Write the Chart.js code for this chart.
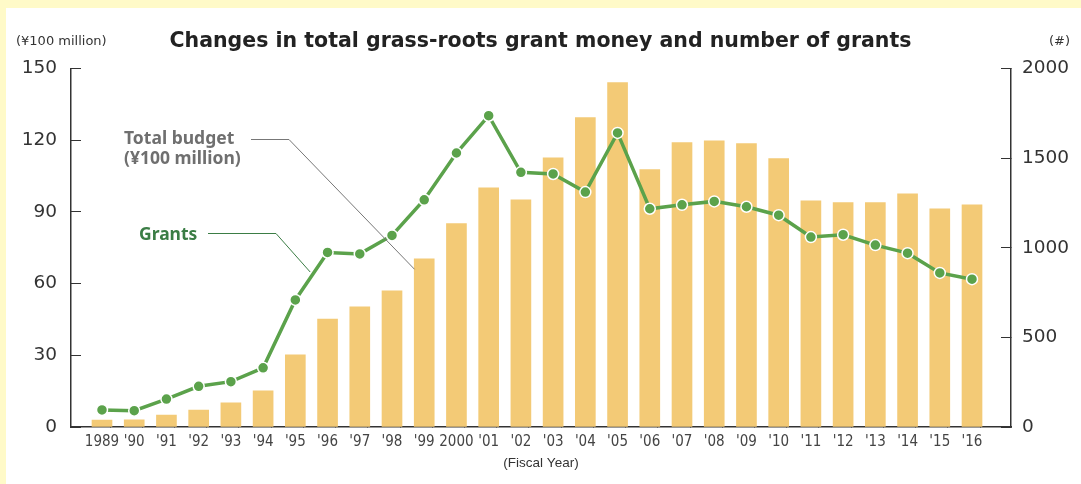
<!DOCTYPE html>
<html>
<head>
<meta charset="utf-8">
<title>Grass-roots grants</title>
<script src="https://cdn.jsdelivr.net/npm/chart.js@4.4.0/dist/chart.umd.min.js"></script>
<style>
    html, body { margin: 0; padding: 0; background: #fffac8; }
    #wrap { position: relative; width: 1081px; height: 484px; }
</style>
</head>
<body>
<div id="wrap"><canvas id="grantChart"></canvas></div>
<script>
// fiscal years on the x axis
const yearLabels = ["1989", "'90", "'91", "'92", "'93", "'94", "'95", "'96", "'97", "'98", "'99", "2000",
    "'01", "'02", "'03", "'04", "'05", "'06", "'07", "'08", "'09", "'10", "'11", "'12", "'13", "'14", "'15", "'16"];

// total budget, ¥100 million (bars, left axis)
const budget = [2.9, 3.0, 5.0, 7.1, 10.1, 15.1, 30.2, 45.2, 50.3, 57.0, 70.4, 85.1,
    100.1, 95.1, 112.7, 129.5, 144.1, 107.7, 119.0, 119.8, 118.6, 112.3, 94.7, 93.9, 93.9, 97.6, 91.3, 93.0];

// number of grants (line, right axis)
const grants = [95, 91, 156, 227, 253, 330, 709, 974, 966, 1069, 1268, 1529,
    1737, 1421, 1412, 1311, 1641, 1218, 1240, 1259, 1229, 1182, 1060, 1073, 1015, 970, 860, 825];

const budgetTicks = [0, 30, 60, 90, 120, 150];
const grantTicks = [0, 500, 1000, 1500, 2000];

const BAR_COLOR = "#f3ca76";
const LINE_COLOR = "#5ba24b";
const AXIS_COLOR = "#333";

const panelPlugin = {
    id: "panel",
    beforeDraw(chart) {
        const ctx = chart.ctx;
        ctx.save();
        ctx.fillStyle = "#fffac8";
        ctx.fillRect(0, 0, chart.width, chart.height);
        ctx.fillStyle = "#ffffff";
        ctx.fillRect(6, 8, chart.width - 6, chart.height - 8);
        ctx.restore();
    },
    afterDraw(chart) {
        const ctx = chart.ctx;
        const x = chart.scales.x;
        const yL = chart.scales.yBudget;
        const yR = chart.scales.yGrants;
        ctx.save();

        // axis units
        ctx.fillStyle = "#333";
        ctx.font = "13px 'DejaVu Sans'";
        ctx.textBaseline = "middle";
        ctx.textAlign = "left";
        ctx.fillText("(¥100 million)", 16, 42);
        ctx.textAlign = "right";
        ctx.fillText("(#)", 1070, 42);

        // callouts
        ctx.textAlign = "left";
        ctx.textBaseline = "alphabetic";
        ctx.font = "bold 17.5px 'Noto Sans'";
        ctx.fillStyle = "#6f6f6f";
        ctx.fillText("Total budget", 124, 144);
        ctx.fillText("(¥100 million)", 124, 164);
        ctx.strokeStyle = "#777";
        ctx.lineWidth = 1;
        ctx.beginPath();
        ctx.moveTo(251, 139.5);
        ctx.lineTo(289, 139.5);
        ctx.lineTo(x.getPixelForValue(9.7), yL.getPixelForValue(66));
        ctx.stroke();

        ctx.fillStyle = "#3b7d45";
        ctx.fillText("Grants", 139, 240);
        ctx.strokeStyle = "#3b7d45";
        ctx.beginPath();
        ctx.moveTo(208, 233.5);
        ctx.lineTo(276, 233.5);
        ctx.lineTo(x.getPixelForValue(6.46), yR.getPixelForValue(865));
        ctx.stroke();

        ctx.restore();
    }
};

const ctx = document.getElementById("grantChart").getContext("2d");
new Chart(ctx, {
    data: {
        datasets: [{
            type: "line",
            label: "Grants",
            yAxisID: "yGrants",
            data: grants.map((v, i) => ({ x: i, y: v })),
            borderColor: LINE_COLOR,
            borderWidth: 3.5,
            backgroundColor: LINE_COLOR,
            pointRadius: 5.5,
            pointBorderColor: "#ffffff",
            pointBorderWidth: 1.5,
            tension: 0,
            order: 0
        }, {
            type: "bar",
            label: "Total budget",
            yAxisID: "yBudget",
            data: budget.map((v, i) => ({ x: i, y: v })),
            backgroundColor: BAR_COLOR,
            barThickness: 20,
            order: 1
        }]
    },
    options: {
        responsive: true,
        maintainAspectRatio: false,
        animation: false,
        layout: { padding: 0 },
        plugins: {
            legend: { display: false },
            tooltip: { enabled: false },
            title: {
                display: true,
                text: "Changes in total grass-roots grant money and number of grants",
                color: "#222",
                font: { family: "'DejaVu Sans'", size: 20.5, weight: "bold" },
                padding: { top: 29, bottom: 15 }
            }
        },
        scales: {
            x: {
                type: "linear",
                offset: false,
                min: -0.962,
                max: 28.21,
                afterBuildTicks(scale) {
                    const t = [];
                    yearLabels.forEach((_, i) => {
                        t.push({ value: i });
                        if (i < yearLabels.length - 1) t.push({ value: i + 0.5 });
                    });
                    scale.ticks = t;
                },
                afterFit(scale) { scale.height = 57; },
                ticks: {
                    autoSkip: false,
                    maxRotation: 0,
                    minRotation: 0,
                    padding: 13,
                    color: "#444",
                    font: { family: "'Liberation Sans Narrow', 'DejaVu Sans Condensed', sans-serif", size: 15 },
                    callback: (value) => Number.isInteger(value) ? yearLabels[value] : ""
                },
                grid: {
                    drawOnChartArea: false,
                    tickLength: -7,
                    tickColor: (c) => (c.tick && Number.isInteger(c.tick.value)) ? "rgba(0,0,0,0)" : AXIS_COLOR
                },
                border: { display: true, color: AXIS_COLOR, width: 1.5 },
                title: {
                    display: true,
                    text: "(Fiscal Year)",
                    color: "#333",
                    font: { family: "'Liberation Sans', sans-serif", size: 13.5 },
                    padding: { top: 2, bottom: 13 }
                }
            },
            yBudget: {
                type: "linear",
                position: "left",
                min: 0,
                max: 150,
                afterBuildTicks(scale) { scale.ticks = budgetTicks.map(v => ({ value: v })); },
                afterFit(scale) { scale.width = 71; },
                ticks: {
                    padding: 24,
                    color: "#333",
                    font: { family: "'DejaVu Sans'", size: 18.5 },
                    callback: (v) => String(v)
                },
                grid: { drawOnChartArea: false, tickLength: -10, tickColor: AXIS_COLOR },
                border: { display: true, color: AXIS_COLOR, width: 1.5 }
            },
            yGrants: {
                type: "linear",
                position: "right",
                min: 0,
                max: 2000,
                afterBuildTicks(scale) { scale.ticks = grantTicks.map(v => ({ value: v })); },
                afterFit(scale) { scale.width = 70; },
                ticks: {
                    padding: 21,
                    color: "#333",
                    font: { family: "'DejaVu Sans'", size: 18.5 },
                    callback: (v) => String(v)
                },
                grid: { drawOnChartArea: false, tickLength: -10, tickColor: AXIS_COLOR },
                border: { display: true, color: AXIS_COLOR, width: 1.5 }
            }
        }
    },
    plugins: [panelPlugin]
});
</script>
</body>
</html>
